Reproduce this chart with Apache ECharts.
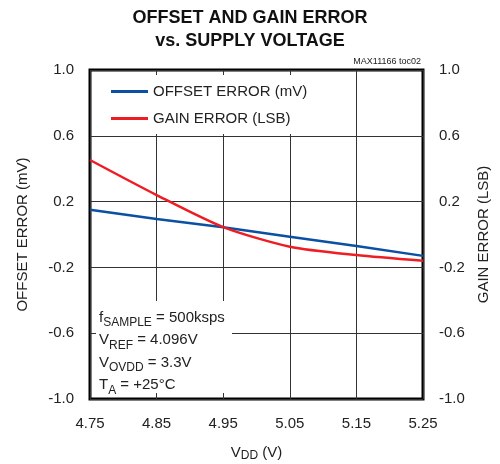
<!DOCTYPE html>
<html>
<head>
<meta charset="utf-8">
<script src="https://cdn.jsdelivr.net/npm/echarts@6/dist/echarts.min.js"></script>
</head>
<body style="margin:0;background:#fff">
<div id="chart" style="width:500px;height:464px"></div>
<script>
// supply voltage (V)
let vdd = [4.75, 4.85, 4.95, 5.05, 5.15, 5.25]
// offset error (mV)
let offsetErr = [0.15, 0.094, 0.044, -0.013, -0.07, -0.13]
// gain error (LSB)
let gainErr = [0.453, 0.24, 0.045, -0.074, -0.125, -0.16]

let font = 'Liberation Sans, Arial, sans-serif'
let chart = echarts.init(document.getElementById('chart'))

function yAxis(pos, name, gap) {
    return {
        type: 'value', position: pos, min: -1, max: 1, interval: 0.4,
        name: name, nameLocation: 'middle', nameRotate: 90, nameGap: gap,
        nameTextStyle: { fontFamily: font, fontSize: 15, color: '#222' },
        axisLine: { show: false }, axisTick: { show: false },
        axisLabel: { margin: 16, fontFamily: font, fontSize: 15, color: '#222',
            formatter: v => v.toFixed(1) },
        splitLine: { show: pos == 'left', lineStyle: { color: '#333', width: 1 } }
    }
}

chart.setOption({
    animation: false,
    grid: { left: 90, right: 77, top: 70, bottom: 65, show: true, borderColor: '#000', borderWidth: 3,
        outerBoundsMode: 'none' },
    xAxis: {
        type: 'value', min: 4.75, max: 5.25, interval: 0.1,
        name: '{n|V}{s|DD}{n| (V)}', nameLocation: 'middle', nameGap: 45,
        nameTextStyle: { rich: {
            n: { fontFamily: font, fontSize: 15, color: '#222', lineHeight: 18 },
            s: { fontFamily: font, fontSize: 12, color: '#222', lineHeight: 12, verticalAlign: 'bottom' }
        } },
        axisLine: { show: false }, axisTick: { show: false },
        axisLabel: { margin: 17, fontFamily: font, fontSize: 15, color: '#222', formatter: v => v.toFixed(2) },
        splitLine: { lineStyle: { color: '#333', width: 1 } }
    },
    yAxis: [yAxis('left', 'OFFSET ERROR (mV)', 60), yAxis('right', 'GAIN ERROR (LSB)', 53)],
    legend: {
        orient: 'vertical', left: 106, top: 79, itemGap: 12, itemWidth: 37, itemHeight: 3,
        icon: 'rect', textStyle: { fontFamily: font, fontSize: 15, color: '#222' }, z: 5,
        data: ['OFFSET ERROR (mV)', 'GAIN ERROR (LSB)']
    },
    title: [
        { text: 'OFFSET AND GAIN ERROR\nvs. SUPPLY VOLTAGE', left: 'center', top: 2,
          textStyle: { fontFamily: font, fontSize: 18, fontWeight: 'bold', color: '#111', lineHeight: 23 } },
        { text: 'MAX11166 toc02', right: 74, top: 52,
          textStyle: { fontFamily: font, fontSize: 9, fontWeight: 'normal', color: '#222' } }
    ],
    graphic: [
        { type: 'rect', z: 1, shape: { x: 96, y: 75, width: 216, height: 59 }, style: { fill: '#fff' } },
        { type: 'rect', z: 1, shape: { x: 96, y: 301, width: 136, height: 92 }, style: { fill: '#fff' } },
        { type: 'text', z: 3, left: 99, top: 310, style: {
            text: '{n|f}{s|SAMPLE}{n| = 500ksps}\n{n|V}{s|REF}{n| = 4.096V}\n{n|V}{s|OVDD}{n| = 3.3V}\n{n|T}{s|A}{n| = +25°C}',
            rich: {
                n: { fontFamily: font, fontSize: 15, fill: '#222', lineHeight: 22.5 },
                s: { fontFamily: font, fontSize: 12, fill: '#222', lineHeight: 12, verticalAlign: 'bottom' }
            }
        } }
    ],
    series: [
        { name: 'OFFSET ERROR (mV)', type: 'line', yAxisIndex: 0, showSymbol: false, z: 3,
          color: '#0b50a3', lineStyle: { width: 2.5 },
          data: vdd.map((x, i) => [x, offsetErr[i]]) },
        { name: 'GAIN ERROR (LSB)', type: 'line', yAxisIndex: 1, showSymbol: false, z: 3, smooth: 0.25,
          color: '#ee1d23', lineStyle: { width: 2.5 },
          data: vdd.map((x, i) => [x, gainErr[i]]) }
    ]
})
</script>
</body>
</html>
